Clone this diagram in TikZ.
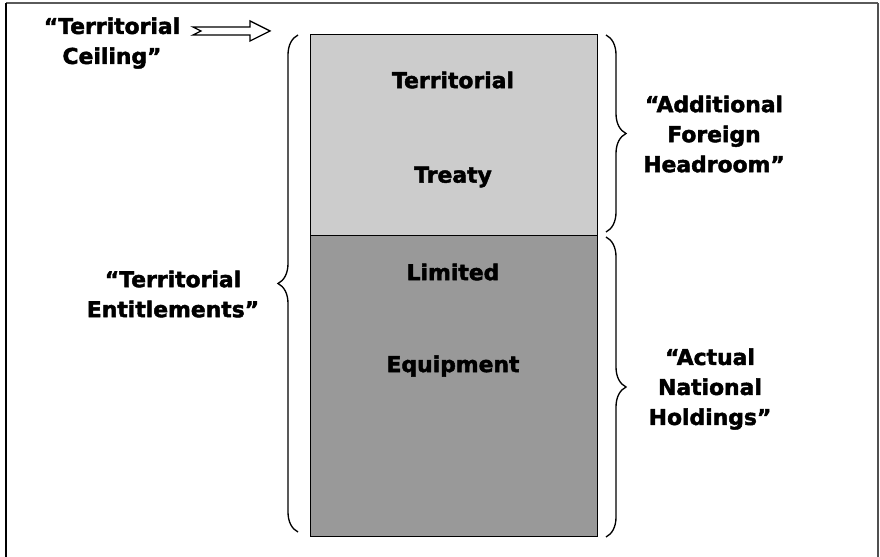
\documentclass[tikz,border=0pt]{standalone}
\usepackage{fontspec}
\setmainfont{DejaVu Sans}[BoldFeatures={FakeBold=2}]
\usetikzlibrary{calc,decorations.pathreplacing}

\tikzset{every picture/.style={line width=0.75pt}}
\tikzset{
  lbl/.style={align=center, inner sep=0.75pt, font=\bfseries\fontsize{16.4}{22.5}\selectfont},
  cbrace/.style={decorate, decoration={brace, amplitude=15pt}, line width=1pt},
  hollowarr/.style={draw=black, fill=white, line width=1pt, line join=miter}
}

\begin{document}
\begin{tikzpicture}[x=0.75pt,y=0.75pt,yscale=-1,xscale=1]
\useasboundingbox (0,0) rectangle (880,556);
\clip (0,0) rectangle (880,556);

%Shape: Frame
\draw [color={rgb, 255:red, 90; green, 90; blue, 90 }, line width=1pt] (6,3) -- (878,3) ;
\draw [color={rgb, 255:red, 0; green, 0; blue, 0 }, line width=1.2pt] (6,3) -- (6,570) ;
\draw [color={rgb, 255:red, 80; green, 80; blue, 80 }, line width=2pt] (878,3) -- (878,570) ;

%Shape: Rectangle [upper part]
\draw [fill={rgb, 255:red, 204; green, 204; blue, 204 }] (310,35) rectangle (597,235) ;
%Shape: Rectangle [lower part]
\draw [fill={rgb, 255:red, 153; green, 153; blue, 153 }] (310,235) rectangle (597,536) ;

\coordinate (boxtl) at (298,35);
\coordinate (boxbl) at (298,532);
\coordinate (boxtr) at (606,35);
\coordinate (boxmr) at (606,232);
\coordinate (boxmr2) at (606,237);
\coordinate (boxbr) at (606,537);

%Braces
\draw [cbrace] (boxbl) -- (boxtl) ;
\draw [cbrace] (boxtr) -- (boxmr) ;
\draw [cbrace] (boxmr2) -- (boxbr) ;

% Text Node
\node [lbl] (ceil) at (112,43) {“Territorial\\Ceiling”};
% Text Node
\node [lbl] (terr) at (453,80) {Territorial};
% Text Node
\node [lbl] (treaty) at (453,177) {Treaty};
% Text Node
\node [lbl] (limited) at (453,272) {Limited};
% Text Node
\node [lbl] (equip) at (453,366) {Equipment};
% Text Node
\node [lbl] (entitle) at (173,294) {“Territorial\\Entitlements”};
% Text Node
\node [lbl] (headroom) at (714,134) {“Additional\\Foreign\\Headroom”};
% Text Node
\node [lbl] (holdings) at (710,389) {“Actual\\National\\Holdings”};

%Hollow arrow from the ceiling label to the box top
\coordinate (ceilarr) at (193,31);
\coordinate (ceiltip) at (270,31);
\draw [hollowarr] ($(ceilarr)+(0,-4)$) -- ($(ceiltip)+(-20,-4)$) -- ($(ceiltip)+(-20,-10)$) -- (ceiltip)
  -- ($(ceiltip)+(-20,10)$) -- ($(ceiltip)+(-20,4)$) -- ($(ceilarr)+(0,4)$) -- ($(ceilarr)+(8,0)$) -- cycle ;

\end{tikzpicture}
\end{document}
